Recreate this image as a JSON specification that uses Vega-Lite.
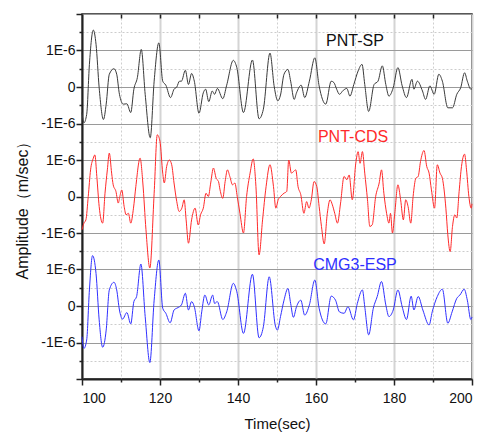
{
  "$schema": "https://vega.github.io/schema/vega-lite/v6.json",
  "autosize": "none",
  "padding": {"left": 82, "top": 14, "right": 12, "bottom": 56},
  "width": 390,
  "height": 365,
  "config": {"view": {"stroke": "#222222", "strokeWidth": 1.5}, "font": "Liberation Sans"},
  "datasets": {
    "traces": [
      {"series":"PNT-SP","time":100,"amp":-0.70},{"series":"PNT-SP","time":100.5,"amp":-0.98},{"series":"PNT-SP","time":101.2,"amp":-0.75},{"series":"PNT-SP","time":101.9,"amp":0.62},{"series":"PNT-SP","time":102.9,"amp":1.56},{"series":"PNT-SP","time":103.6,"amp":1.17},{"series":"PNT-SP","time":104.4,"amp":-0.02},{"series":"PNT-SP","time":105.5,"amp":-0.89},{"series":"PNT-SP","time":106.2,"amp":-0.47},{"series":"PNT-SP","time":107.0,"amp":0.35},{"series":"PNT-SP","time":108.2,"amp":0.50},{"series":"PNT-SP","time":108.9,"amp":0.35},{"series":"PNT-SP","time":109.6,"amp":-0.20},{"series":"PNT-SP","time":110.6,"amp":-0.47},{"series":"PNT-SP","time":111.5,"amp":-0.46},{"series":"PNT-SP","time":112.5,"amp":-0.70},{"series":"PNT-SP","time":113.3,"amp":-0.06},{"series":"PNT-SP","time":114.2,"amp":0.26},{"series":"PNT-SP","time":115.2,"amp":1.03},{"series":"PNT-SP","time":116.2,"amp":-0.20},{"series":"PNT-SP","time":117.5,"amp":-1.39},{"series":"PNT-SP","time":118.5,"amp":0.16},{"series":"PNT-SP","time":119.7,"amp":1.21},{"series":"PNT-SP","time":120.7,"amp":0.16},{"series":"PNT-SP","time":121.5,"amp":0.05},{"series":"PNT-SP","time":122.7,"amp":-0.29},{"series":"PNT-SP","time":123.6,"amp":-0.06},{"series":"PNT-SP","time":124.3,"amp":0.0},{"series":"PNT-SP","time":125.0,"amp":0.16},{"series":"PNT-SP","time":125.5,"amp":0.16},{"series":"PNT-SP","time":126.5,"amp":0.46},{"series":"PNT-SP","time":127.3,"amp":0.07},{"series":"PNT-SP","time":128.1,"amp":0.37},{"series":"PNT-SP","time":128.8,"amp":0.16},{"series":"PNT-SP","time":130.0,"amp":-0.72},{"series":"PNT-SP","time":131.1,"amp":-0.16},{"series":"PNT-SP","time":131.7,"amp":-0.06},{"series":"PNT-SP","time":132.5,"amp":-0.40},{"series":"PNT-SP","time":133.4,"amp":-0.11},{"series":"PNT-SP","time":134.0,"amp":-0.20},{"series":"PNT-SP","time":134.7,"amp":-0.04},{"series":"PNT-SP","time":136.1,"amp":-0.32},{"series":"PNT-SP","time":137.1,"amp":0.05},{"series":"PNT-SP","time":138.8,"amp":0.73},{"series":"PNT-SP","time":139.7,"amp":0.53},{"series":"PNT-SP","time":141.4,"amp":-0.70},{"series":"PNT-SP","time":143.7,"amp":0.74},{"series":"PNT-SP","time":145.4,"amp":-0.87},{"series":"PNT-SP","time":146.5,"amp":-0.61},{"series":"PNT-SP","time":148.2,"amp":0.93},{"series":"PNT-SP","time":149.3,"amp":0.0},{"series":"PNT-SP","time":150.2,"amp":-0.38},{"series":"PNT-SP","time":150.9,"amp":-0.22},{"series":"PNT-SP","time":151.8,"amp":0.35},{"series":"PNT-SP","time":152.8,"amp":0.48},{"series":"PNT-SP","time":153.5,"amp":0.16},{"series":"PNT-SP","time":154.4,"amp":-0.34},{"series":"PNT-SP","time":155.0,"amp":-0.16},{"series":"PNT-SP","time":156.2,"amp":0.05},{"series":"PNT-SP","time":157.1,"amp":-0.29},{"series":"PNT-SP","time":158.3,"amp":0.16},{"series":"PNT-SP","time":159.7,"amp":0.80},{"series":"PNT-SP","time":160.8,"amp":0.03},{"series":"PNT-SP","time":162.5,"amp":-0.47},{"series":"PNT-SP","time":163.9,"amp":0.16},{"series":"PNT-SP","time":164.6,"amp":0.12},{"series":"PNT-SP","time":165.3,"amp":-0.06},{"series":"PNT-SP","time":166.0,"amp":-0.20},{"series":"PNT-SP","time":167.0,"amp":-0.09},{"series":"PNT-SP","time":167.9,"amp":-0.04},{"series":"PNT-SP","time":168.7,"amp":-0.25},{"series":"PNT-SP","time":169.7,"amp":0.07},{"series":"PNT-SP","time":170.8,"amp":0.44},{"series":"PNT-SP","time":171.8,"amp":0.62},{"series":"PNT-SP","time":172.5,"amp":0.07},{"series":"PNT-SP","time":173.5,"amp":-0.67},{"series":"PNT-SP","time":174.9,"amp":0.07},{"series":"PNT-SP","time":175.9,"amp":0.16},{"series":"PNT-SP","time":177.0,"amp":0.58},{"series":"PNT-SP","time":177.9,"amp":0.07},{"series":"PNT-SP","time":178.7,"amp":-0.25},{"series":"PNT-SP","time":179.8,"amp":-0.02},{"series":"PNT-SP","time":181.0,"amp":0.53},{"series":"PNT-SP","time":182.1,"amp":0.03},{"series":"PNT-SP","time":183.2,"amp":-0.29},{"series":"PNT-SP","time":184.6,"amp":0.21},{"series":"PNT-SP","time":185.1,"amp":-0.06},{"series":"PNT-SP","time":186.0,"amp":0.16},{"series":"PNT-SP","time":187.3,"amp":-0.11},{"series":"PNT-SP","time":188.1,"amp":-0.34},{"series":"PNT-SP","time":189.2,"amp":0.03},{"series":"PNT-SP","time":190.3,"amp":-0.20},{"series":"PNT-SP","time":191.5,"amp":0.35},{"series":"PNT-SP","time":192.4,"amp":0.16},{"series":"PNT-SP","time":193.8,"amp":-0.57},{"series":"PNT-SP","time":195.0,"amp":-0.57},{"series":"PNT-SP","time":196.1,"amp":-0.20},{"series":"PNT-SP","time":197.1,"amp":-0.02},{"series":"PNT-SP","time":198.1,"amp":0.39},{"series":"PNT-SP","time":198.8,"amp":0.16},{"series":"PNT-SP","time":199.7,"amp":-0.06},{"series":"PNT-SP","time":200,"amp":-0.05},
      {"series":"PNT-CDS","time":100,"amp":-0.91},{"series":"PNT-CDS","time":100.5,"amp":-0.73},{"series":"PNT-CDS","time":101.0,"amp":-0.64},{"series":"PNT-CDS","time":101.6,"amp":0.0},{"series":"PNT-CDS","time":102.2,"amp":0.73},{"series":"PNT-CDS","time":102.9,"amp":1.05},{"series":"PNT-CDS","time":103.3,"amp":1.14},{"series":"PNT-CDS","time":103.8,"amp":0.55},{"series":"PNT-CDS","time":104.4,"amp":-0.27},{"series":"PNT-CDS","time":105.3,"amp":-0.73},{"series":"PNT-CDS","time":105.9,"amp":0.09},{"series":"PNT-CDS","time":106.5,"amp":0.73},{"series":"PNT-CDS","time":107.0,"amp":1.19},{"series":"PNT-CDS","time":107.6,"amp":0.64},{"series":"PNT-CDS","time":108.0,"amp":0.32},{"series":"PNT-CDS","time":108.7,"amp":0.14},{"series":"PNT-CDS","time":109.3,"amp":-0.18},{"series":"PNT-CDS","time":109.7,"amp":0.0},{"series":"PNT-CDS","time":110.2,"amp":0.18},{"series":"PNT-CDS","time":110.8,"amp":-0.27},{"series":"PNT-CDS","time":111.3,"amp":-0.50},{"series":"PNT-CDS","time":111.9,"amp":-0.46},{"series":"PNT-CDS","time":112.5,"amp":-0.73},{"series":"PNT-CDS","time":113.2,"amp":-0.32},{"series":"PNT-CDS","time":113.8,"amp":0.27},{"series":"PNT-CDS","time":114.9,"amp":1.05},{"series":"PNT-CDS","time":115.6,"amp":0.37},{"series":"PNT-CDS","time":116.4,"amp":-0.91},{"series":"PNT-CDS","time":117.4,"amp":-1.96},{"series":"PNT-CDS","time":118.5,"amp":0.09},{"series":"PNT-CDS","time":119.3,"amp":1.69},{"series":"PNT-CDS","time":120.0,"amp":1.51},{"series":"PNT-CDS","time":120.7,"amp":0.64},{"series":"PNT-CDS","time":121.1,"amp":0.37},{"series":"PNT-CDS","time":121.7,"amp":0.82},{"series":"PNT-CDS","time":122.4,"amp":1.0},{"series":"PNT-CDS","time":123.0,"amp":0.87},{"series":"PNT-CDS","time":123.6,"amp":0.37},{"series":"PNT-CDS","time":124.3,"amp":-0.14},{"series":"PNT-CDS","time":124.9,"amp":-0.41},{"series":"PNT-CDS","time":125.6,"amp":-0.32},{"series":"PNT-CDS","time":126.2,"amp":-0.09},{"series":"PNT-CDS","time":126.7,"amp":-0.64},{"series":"PNT-CDS","time":127.3,"amp":-1.28},{"series":"PNT-CDS","time":128.1,"amp":-0.64},{"series":"PNT-CDS","time":129.0,"amp":-0.32},{"series":"PNT-CDS","time":129.8,"amp":-0.78},{"series":"PNT-CDS","time":130.4,"amp":-0.50},{"series":"PNT-CDS","time":131.1,"amp":-0.32},{"series":"PNT-CDS","time":131.8,"amp":0.09},{"series":"PNT-CDS","time":132.4,"amp":0.0},{"series":"PNT-CDS","time":133.0,"amp":0.37},{"series":"PNT-CDS","time":133.7,"amp":0.78},{"series":"PNT-CDS","time":134.4,"amp":0.50},{"series":"PNT-CDS","time":135.0,"amp":0.41},{"series":"PNT-CDS","time":135.4,"amp":0.18},{"series":"PNT-CDS","time":136.1,"amp":-0.05},{"series":"PNT-CDS","time":136.7,"amp":0.41},{"series":"PNT-CDS","time":137.3,"amp":0.73},{"series":"PNT-CDS","time":137.9,"amp":0.55},{"series":"PNT-CDS","time":138.6,"amp":0.32},{"series":"PNT-CDS","time":139.2,"amp":0.37},{"series":"PNT-CDS","time":139.8,"amp":0.0},{"series":"PNT-CDS","time":140.5,"amp":-0.46},{"series":"PNT-CDS","time":141.4,"amp":-1.0},{"series":"PNT-CDS","time":142.2,"amp":0.0},{"series":"PNT-CDS","time":143.1,"amp":0.64},{"series":"PNT-CDS","time":143.9,"amp":1.03},{"series":"PNT-CDS","time":144.6,"amp":0.27},{"series":"PNT-CDS","time":145.4,"amp":-1.60},{"series":"PNT-CDS","time":146.3,"amp":-0.64},{"series":"PNT-CDS","time":147.2,"amp":0.27},{"series":"PNT-CDS","time":148.2,"amp":0.87},{"series":"PNT-CDS","time":149.1,"amp":0.27},{"series":"PNT-CDS","time":149.7,"amp":-0.32},{"series":"PNT-CDS","time":150.3,"amp":-0.09},{"series":"PNT-CDS","time":150.9,"amp":0.0},{"series":"PNT-CDS","time":151.8,"amp":0.09},{"series":"PNT-CDS","time":152.5,"amp":0.14},{"series":"PNT-CDS","time":153.0,"amp":1.0},{"series":"PNT-CDS","time":153.7,"amp":0.64},{"series":"PNT-CDS","time":154.2,"amp":0.68},{"series":"PNT-CDS","time":154.8,"amp":0.73},{"series":"PNT-CDS","time":155.4,"amp":0.27},{"series":"PNT-CDS","time":156.1,"amp":0.05},{"series":"PNT-CDS","time":156.9,"amp":-0.46},{"series":"PNT-CDS","time":157.6,"amp":-0.14},{"series":"PNT-CDS","time":158.2,"amp":-0.32},{"series":"PNT-CDS","time":158.8,"amp":-0.09},{"series":"PNT-CDS","time":159.5,"amp":0.41},{"series":"PNT-CDS","time":160.2,"amp":0.27},{"series":"PNT-CDS","time":160.8,"amp":-0.27},{"series":"PNT-CDS","time":161.4,"amp":-0.82},{"series":"PNT-CDS","time":162.1,"amp":-1.30},{"series":"PNT-CDS","time":162.9,"amp":-0.46},{"series":"PNT-CDS","time":163.6,"amp":-0.09},{"series":"PNT-CDS","time":164.2,"amp":-0.23},{"series":"PNT-CDS","time":164.8,"amp":-0.46},{"series":"PNT-CDS","time":165.5,"amp":-0.73},{"series":"PNT-CDS","time":166.3,"amp":-0.18},{"series":"PNT-CDS","time":167.2,"amp":0.55},{"series":"PNT-CDS","time":167.9,"amp":0.46},{"series":"PNT-CDS","time":168.5,"amp":0.59},{"series":"PNT-CDS","time":169.3,"amp":-0.09},{"series":"PNT-CDS","time":170.2,"amp":0.91},{"series":"PNT-CDS","time":170.8,"amp":1.23},{"series":"PNT-CDS","time":171.3,"amp":0.91},{"series":"PNT-CDS","time":171.9,"amp":1.23},{"series":"PNT-CDS","time":172.5,"amp":0.64},{"series":"PNT-CDS","time":173.2,"amp":-0.09},{"series":"PNT-CDS","time":173.8,"amp":-0.82},{"series":"PNT-CDS","time":174.4,"amp":-0.78},{"series":"PNT-CDS","time":175.3,"amp":0.0},{"series":"PNT-CDS","time":176.2,"amp":0.37},{"series":"PNT-CDS","time":176.8,"amp":0.73},{"series":"PNT-CDS","time":177.4,"amp":0.09},{"series":"PNT-CDS","time":178.1,"amp":-0.46},{"series":"PNT-CDS","time":178.7,"amp":-0.73},{"series":"PNT-CDS","time":179.1,"amp":-0.46},{"series":"PNT-CDS","time":179.6,"amp":-1.0},{"series":"PNT-CDS","time":180.2,"amp":-0.46},{"series":"PNT-CDS","time":181.0,"amp":0.32},{"series":"PNT-CDS","time":181.7,"amp":-0.09},{"series":"PNT-CDS","time":182.4,"amp":-0.64},{"series":"PNT-CDS","time":183.0,"amp":-0.09},{"series":"PNT-CDS","time":183.6,"amp":-0.27},{"series":"PNT-CDS","time":184.3,"amp":-0.73},{"series":"PNT-CDS","time":184.9,"amp":0.0},{"series":"PNT-CDS","time":185.6,"amp":0.50},{"series":"PNT-CDS","time":186.2,"amp":0.55},{"series":"PNT-CDS","time":186.8,"amp":0.96},{"series":"PNT-CDS","time":187.7,"amp":1.26},{"series":"PNT-CDS","time":188.4,"amp":0.82},{"series":"PNT-CDS","time":189.0,"amp":0.64},{"series":"PNT-CDS","time":189.6,"amp":0.18},{"series":"PNT-CDS","time":190.4,"amp":-0.32},{"series":"PNT-CDS","time":191.1,"amp":0.87},{"series":"PNT-CDS","time":191.8,"amp":0.64},{"series":"PNT-CDS","time":192.4,"amp":0.50},{"series":"PNT-CDS","time":193.3,"amp":-0.32},{"series":"PNT-CDS","time":193.8,"amp":-1.05},{"series":"PNT-CDS","time":194.4,"amp":-1.51},{"series":"PNT-CDS","time":195.0,"amp":-0.82},{"series":"PNT-CDS","time":195.6,"amp":-0.50},{"series":"PNT-CDS","time":196.1,"amp":-0.59},{"series":"PNT-CDS","time":196.7,"amp":0.14},{"series":"PNT-CDS","time":197.3,"amp":0.82},{"series":"PNT-CDS","time":198.1,"amp":1.16},{"series":"PNT-CDS","time":198.6,"amp":0.73},{"series":"PNT-CDS","time":199.2,"amp":0.0},{"series":"PNT-CDS","time":199.8,"amp":-0.32},{"series":"PNT-CDS","time":200,"amp":-0.20},
      {"series":"CMG3-ESP","time":100,"amp":-0.84},{"series":"CMG3-ESP","time":100.5,"amp":-1.16},{"series":"CMG3-ESP","time":101.2,"amp":-0.93},{"series":"CMG3-ESP","time":101.9,"amp":0.44},{"series":"CMG3-ESP","time":102.7,"amp":1.38},{"series":"CMG3-ESP","time":103.6,"amp":0.89},{"series":"CMG3-ESP","time":104.4,"amp":-0.38},{"series":"CMG3-ESP","time":105.3,"amp":-1.13},{"series":"CMG3-ESP","time":106.2,"amp":-0.66},{"series":"CMG3-ESP","time":107.0,"amp":0.44},{"series":"CMG3-ESP","time":108.2,"amp":0.65},{"series":"CMG3-ESP","time":108.9,"amp":0.44},{"series":"CMG3-ESP","time":109.6,"amp":-0.11},{"series":"CMG3-ESP","time":110.4,"amp":-0.36},{"series":"CMG3-ESP","time":111.5,"amp":-0.18},{"series":"CMG3-ESP","time":112.5,"amp":-0.49},{"series":"CMG3-ESP","time":113.3,"amp":0.12},{"series":"CMG3-ESP","time":114.0,"amp":0.26},{"series":"CMG3-ESP","time":115.1,"amp":1.15},{"series":"CMG3-ESP","time":116.2,"amp":-0.29},{"series":"CMG3-ESP","time":117.4,"amp":-1.55},{"series":"CMG3-ESP","time":118.5,"amp":0.16},{"series":"CMG3-ESP","time":119.7,"amp":1.26},{"series":"CMG3-ESP","time":120.7,"amp":-0.06},{"series":"CMG3-ESP","time":121.5,"amp":-0.20},{"series":"CMG3-ESP","time":122.6,"amp":-0.46},{"series":"CMG3-ESP","time":123.6,"amp":-0.11},{"series":"CMG3-ESP","time":124.3,"amp":-0.06},{"series":"CMG3-ESP","time":125.0,"amp":-0.02},{"series":"CMG3-ESP","time":125.5,"amp":0.03},{"series":"CMG3-ESP","time":126.5,"amp":0.35},{"series":"CMG3-ESP","time":127.3,"amp":-0.11},{"series":"CMG3-ESP","time":128.1,"amp":0.12},{"series":"CMG3-ESP","time":128.8,"amp":-0.02},{"series":"CMG3-ESP","time":130.0,"amp":-0.68},{"series":"CMG3-ESP","time":130.7,"amp":-0.16},{"series":"CMG3-ESP","time":131.5,"amp":0.30},{"series":"CMG3-ESP","time":132.5,"amp":0.03},{"series":"CMG3-ESP","time":133.5,"amp":0.30},{"series":"CMG3-ESP","time":134.0,"amp":0.07},{"series":"CMG3-ESP","time":134.7,"amp":0.12},{"series":"CMG3-ESP","time":136.1,"amp":-0.37},{"series":"CMG3-ESP","time":137.1,"amp":-0.16},{"series":"CMG3-ESP","time":138.8,"amp":0.62},{"series":"CMG3-ESP","time":139.7,"amp":0.39},{"series":"CMG3-ESP","time":141.4,"amp":-0.75},{"series":"CMG3-ESP","time":143.7,"amp":0.87},{"series":"CMG3-ESP","time":145.4,"amp":-0.87},{"series":"CMG3-ESP","time":146.5,"amp":-0.57},{"series":"CMG3-ESP","time":148.0,"amp":0.80},{"series":"CMG3-ESP","time":149.6,"amp":-0.55},{"series":"CMG3-ESP","time":150.1,"amp":-0.66},{"series":"CMG3-ESP","time":150.9,"amp":-0.29},{"series":"CMG3-ESP","time":151.8,"amp":0.16},{"series":"CMG3-ESP","time":152.8,"amp":0.48},{"series":"CMG3-ESP","time":153.5,"amp":0.07},{"series":"CMG3-ESP","time":154.2,"amp":-0.31},{"series":"CMG3-ESP","time":155.0,"amp":-0.02},{"series":"CMG3-ESP","time":156.1,"amp":0.16},{"series":"CMG3-ESP","time":157.1,"amp":-0.25},{"series":"CMG3-ESP","time":158.3,"amp":0.03},{"series":"CMG3-ESP","time":159.7,"amp":0.71},{"series":"CMG3-ESP","time":160.8,"amp":-0.06},{"series":"CMG3-ESP","time":162.5,"amp":-0.49},{"series":"CMG3-ESP","time":163.9,"amp":0.27},{"series":"CMG3-ESP","time":165.0,"amp":0.16},{"series":"CMG3-ESP","time":166.0,"amp":-0.16},{"series":"CMG3-ESP","time":167.2,"amp":-0.20},{"series":"CMG3-ESP","time":168.2,"amp":-0.02},{"series":"CMG3-ESP","time":169.6,"amp":-0.38},{"series":"CMG3-ESP","time":170.6,"amp":0.07},{"series":"CMG3-ESP","time":171.9,"amp":0.44},{"series":"CMG3-ESP","time":172.5,"amp":-0.02},{"series":"CMG3-ESP","time":173.5,"amp":-0.79},{"series":"CMG3-ESP","time":174.7,"amp":-0.06},{"series":"CMG3-ESP","time":175.7,"amp":0.26},{"series":"CMG3-ESP","time":176.8,"amp":0.67},{"series":"CMG3-ESP","time":177.9,"amp":0.03},{"series":"CMG3-ESP","time":178.7,"amp":-0.29},{"series":"CMG3-ESP","time":179.8,"amp":-0.11},{"series":"CMG3-ESP","time":181.0,"amp":0.44},{"series":"CMG3-ESP","time":182.1,"amp":-0.02},{"series":"CMG3-ESP","time":183.2,"amp":-0.37},{"series":"CMG3-ESP","time":184.4,"amp":0.27},{"series":"CMG3-ESP","time":185.1,"amp":-0.11},{"series":"CMG3-ESP","time":186.2,"amp":0.26},{"series":"CMG3-ESP","time":187.4,"amp":-0.11},{"series":"CMG3-ESP","time":189.0,"amp":-0.52},{"series":"CMG3-ESP","time":189.8,"amp":-0.16},{"series":"CMG3-ESP","time":191.1,"amp":0.26},{"series":"CMG3-ESP","time":192.4,"amp":0.46},{"series":"CMG3-ESP","time":193.8,"amp":-0.47},{"series":"CMG3-ESP","time":194.9,"amp":-0.16},{"series":"CMG3-ESP","time":196.1,"amp":0.21},{"series":"CMG3-ESP","time":196.9,"amp":0.30},{"series":"CMG3-ESP","time":198.0,"amp":0.46},{"series":"CMG3-ESP","time":198.8,"amp":0.16},{"series":"CMG3-ESP","time":199.7,"amp":-0.37},{"series":"CMG3-ESP","time":200,"amp":-0.30}
    ]
  },
  "layer": [
    {
      "layer": [
        {
          "data": {"name": "traces"},
          "transform": [{"filter": "datum.series === 'PNT-CDS'"}],
          "mark": {"type": "line", "color": "#ff2a2a", "strokeWidth": 1, "interpolate": "monotone"},
          "encoding": {
            "x": {
              "field": "time", "type": "quantitative",
              "scale": {"domain": [100, 200], "nice": false, "zero": false},
              "axis": {
                "orient": "bottom",
                "values": [100, 110, 120, 130, 140, 150, 160, 170, 180, 190, 200],
                "tickCount": 100,
                "labelExpr": "datum.value % 20 === 0 ? datum.label : ''",
                "labelOverlap": false,
                "labelFont": "Liberation Sans", "labelFontSize": 14, "labelColor": "#111111", "labelPadding": 6,
                "grid": true,
                "gridColor": {"condition": {"test": "datum.value % 20 === 0", "value": "#d4d4d4"}, "value": "#cfcfcf"},
                "gridWidth": {"condition": {"test": "datum.value % 20 === 0", "value": 2}, "value": 1},
                "gridDash": {"condition": {"test": "datum.value % 20 === 0", "value": []}, "value": [2, 2]},
                "tickColor": "#222222", "tickWidth": 1.5,
                "tickSize": {"condition": {"test": "datum.value % 20 === 0", "value": 6}, "value": 3},
                "domainColor": "#222222", "domainWidth": 2,
                "title": "Time(sec)", "titleFont": "Liberation Sans", "titleFontSize": 15, "titleFontWeight": "normal", "titleColor": "#111111",
                "titleX": 195, "titleY": 49, "titleBaseline": "alphabetic", "titleAlign": "center",
                "zindex": 0
              }
            },
            "y": {
              "field": "amp", "type": "quantitative",
              "scale": {"domain": [-5, 5], "nice": false, "zero": false},
              "axis": {
                "orient": "left",
                "values": [-5, -4.5, -4, -3.5, -3, -2.5, -2, -1.5, -1, -0.5, 0, 0.5, 1, 1.5, 2, 2.5, 3, 3.5, 4, 4.5, 5],
                "tickCount": 100,
                "labelExpr": "(abs(datum.value) <= 4 && datum.value === floor(datum.value)) ? ((datum.value + 6) % 3 === 0 ? '0' : ((datum.value + 6) % 3 === 1 ? '1E-6' : '-1E-6')) : ''",
                "labelOverlap": false,
                "labelFont": "Liberation Sans", "labelFontSize": 14, "labelColor": "#111111", "labelPadding": 1,
                "grid": true,
                "gridColor": {"condition": {"test": "datum.value === floor(datum.value)", "value": "#9a9a9a"}, "value": "#cccccc"},
                "gridWidth": {"condition": {"test": "datum.value === floor(datum.value)", "value": 1.2}, "value": 1},
                "gridDash": {"condition": {"test": "datum.value === floor(datum.value)", "value": []}, "value": [2, 2]},
                "tickColor": "#222222", "tickWidth": 1.5,
                "tickSize": {"condition": {"test": "datum.value === floor(datum.value)", "value": 6}, "value": 3},
                "domainColor": "#222222", "domainWidth": 2,
                "title": "Amplitude（m/sec）", "titleFont": "Liberation Sans", "titleFontSize": 16, "titleFontWeight": "normal", "titleColor": "#111111",
                "titleX": -60, "titleY": 192, "titleAngle": -90, "titleBaseline": "middle", "titleAlign": "center",
                "zindex": 0
              }
            }
          }
        },
        {
          "data": {"values": [{}]},
          "mark": {"type": "text", "text": "PNT-SP", "font": "Liberation Sans", "fontSize": 16, "color": "#111111", "align": "center", "baseline": "middle"},
          "encoding": {"x": {"datum": 170, "type": "quantitative"}, "y": {"datum": 4.26, "type": "quantitative"}}
        },
        {
          "data": {"values": [{}]},
          "mark": {"type": "text", "text": "PNT-CDS", "font": "Liberation Sans", "fontSize": 16, "color": "#ff2a2a", "align": "center", "baseline": "middle"},
          "encoding": {"x": {"datum": 169.5, "type": "quantitative"}, "y": {"datum": 1.64, "type": "quantitative"}}
        },
        {
          "data": {"values": [{}]},
          "mark": {"type": "text", "text": "CMG3-ESP", "font": "Liberation Sans", "fontSize": 16, "color": "#3030ff", "align": "center", "baseline": "middle"},
          "encoding": {"x": {"datum": 170, "type": "quantitative"}, "y": {"datum": -1.89, "type": "quantitative"}}
        }
      ]
    },
    {
      "data": {"name": "traces"},
      "transform": [{"filter": "datum.series === 'PNT-SP'"}],
      "mark": {"type": "line", "color": "#3a3a3a", "strokeWidth": 1, "interpolate": "monotone"},
      "encoding": {
        "x": {
          "field": "time", "type": "quantitative",
          "scale": {"domain": [100, 200], "nice": false, "zero": false},
          "axis": {
            "orient": "top", "values": [110, 120, 130, 140, 150, 160, 170, 180, 190], "tickCount": 100,
            "labels": false, "grid": false, "domain": false, "title": null,
            "tickSize": -4, "tickColor": "#222222", "tickWidth": 1.5
          }
        },
        "y": {"field": "amp", "type": "quantitative", "scale": {"domain": [-8, 2], "nice": false, "zero": false}, "axis": null}
      }
    },
    {
      "data": {"name": "traces"},
      "transform": [{"filter": "datum.series === 'CMG3-ESP'"}],
      "mark": {"type": "line", "color": "#3030ff", "strokeWidth": 1, "interpolate": "monotone"},
      "encoding": {
        "x": {"field": "time", "type": "quantitative", "scale": {"domain": [100, 200], "nice": false, "zero": false}, "axis": null},
        "y": {"field": "amp", "type": "quantitative", "scale": {"domain": [-2, 8], "nice": false, "zero": false}, "axis": null}
      }
    }
  ],
  "resolve": {"scale": {"y": "independent"}, "axis": {"x": "independent"}}
}
